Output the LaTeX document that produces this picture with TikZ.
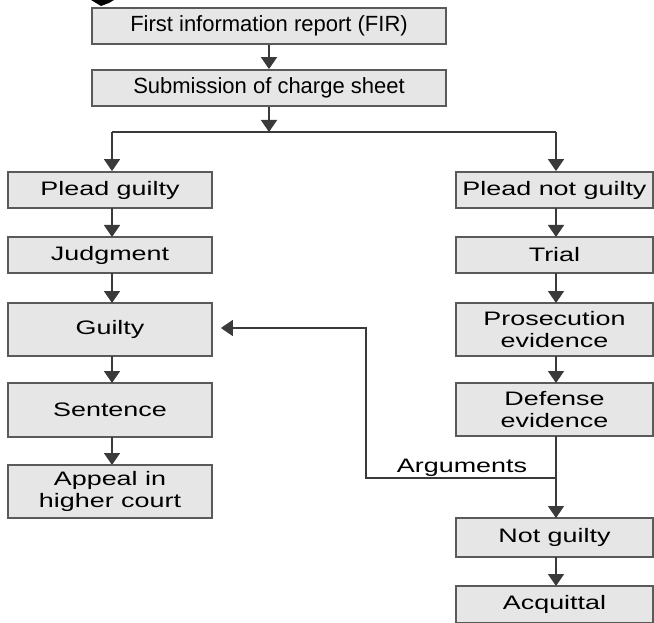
\documentclass[tikz,border=0pt]{standalone}
\usepackage{fontspec}
\setmainfont{Liberation Sans}
\newfontfamily\widefont[FakeStretch=1.38]{Liberation Sans}
\usetikzlibrary{arrows.meta}
\definecolor{boxfill}{HTML}{E6E6E6}
\definecolor{boxline}{HTML}{5A5A5A}
\definecolor{arrline}{HTML}{3A3A3A}
\begin{document}
\begin{tikzpicture}[x=1pt,y=-1pt,
  stepbox/.style={draw=boxline,fill=boxfill,line width=1.8pt,inner sep=0pt,
    minimum height=36pt,align=center,font=\widefont\fontsize{19.5}{21.5}\selectfont},
  lbox/.style={stepbox,minimum width=204pt},
  rbox/.style={stepbox,minimum width=197pt},
  tbox/.style={stepbox,minimum width=354pt,font=\normalfont\fontsize{22}{24}\selectfont},
  conn/.style={draw=arrline,line width=1.6pt,-{Triangle[width=16pt,length=12pt]}},
  plain/.style={draw=arrline,line width=1.6pt}]
\useasboundingbox (0,0) rectangle (654,623);
\fill[black] (91,0) -- (114,0) -- (109,3) -- (101,6) -- cycle;
% top
\node[tbox] (fir) at (269,26) {First information report (FIR)};
\node[tbox] (sub) at (269,88) {Submission of charge sheet};
% left column
\node[lbox] (pg) at (110,190) {Plead guilty};
\node[lbox] (jud) at (110,255) {Judgment};
\node[lbox,minimum height=53pt] (gui) at (110,329.5) {Guilty};
\node[lbox,minimum height=54pt] (sen) at (110,410) {Sentence};
\node[lbox,minimum height=53pt] (app) at (110,491.5) {Appeal in\\higher court};
% right column
\node[rbox] (png) at (554.5,190) {Plead not guilty};
\node[rbox] (tri) at (554.5,255) {Trial};
\node[rbox,minimum height=53pt] (pro) at (554.5,329.5) {Prosecution\\evidence};
\node[rbox,minimum height=53pt] (def) at (554.5,409.5) {Defense\\evidence};
\node[rbox,minimum height=39pt] (ng) at (554.5,537.5) {Not guilty};
\node[rbox,minimum height=37pt] (acq) at (554.5,604.5) {Acquittal};
% coordinates
\coordinate (split) at (269,132);
\coordinate (sl) at (112,132);
\coordinate (sr) at (556,132);
\coordinate (argj) at (556,478);
\coordinate (argc) at (366,478);
\coordinate (argt) at (366,328);
% connectors
\draw[conn] (fir.south) -- (sub.north);
\draw[conn] (sub.south) -- (split);
\draw[plain] (sl) -- (sr);
\draw[conn] (sl) -- (sl |- pg.north);
\draw[conn] (sr) -- (sr |- png.north);
\draw[conn] (112,208) -- (112,237);
\draw[conn] (112,273) -- (112,303);
\draw[conn] (112,356) -- (112,383);
\draw[conn] (112,437) -- (112,465);
\draw[conn] (556,208) -- (556,237);
\draw[conn] (556,273) -- (556,303);
\draw[conn] (556,356) -- (556,383);
\draw[conn] (556,436) -- (556,518);
\draw[conn] (556,557) -- (556,586);
\draw[conn,shorten >=8pt] (argj) -- (argc) -- (argt) -- (gui.east |- argt);
\node[font=\widefont\fontsize{19.5}{21.5}\selectfont,anchor=base] (arglab) at (462,472) {Arguments};
\end{tikzpicture}
\end{document}
